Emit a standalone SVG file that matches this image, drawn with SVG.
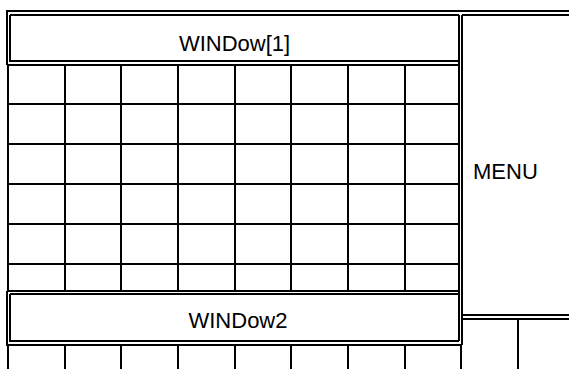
<svg xmlns="http://www.w3.org/2000/svg" width="569" height="369" viewBox="0 0 569 369">
<style>
.l{stroke:#000;stroke-width:2;fill:none}
.t{font-family:"Liberation Sans",Arial,sans-serif;font-size:22px;fill:#000}
</style>
<rect width="569" height="369" fill="#fff"/>
<g id="grid" class="l">
<path d="M8 65V291M8 345V369"/>
<path d="M65 65V291M121 65V291M178 65V291M235 65V291M291 65V291M348 65V291M405 65V291"/>
<path d="M65 345V369M121 345V369M178 345V369M235 345V369M291 345V369M348 345V369M405 345V369M461 345V369"/>
<path d="M8 104H459M8 144H459M8 184H459M8 224H459M8 264H459"/>
</g>
<g id="window1">
<path class="l" d="M7 65V11H569M7 65H459"/>
<path class="l" d="M10 15H459M10 15V61H459"/>
<text class="t" x="234.5" y="51" text-anchor="middle">WINDow[1]</text>
</g>
<g id="menu">
<path class="l" d="M462 15H569M462 315H569M462 319H569"/>
<path class="l" d="M459 15V341M462 15V345"/>
<path class="l" d="M518 319V369"/>
<text class="t" x="473" y="179">MENU</text>
</g>
<g id="window2">
<path class="l" d="M7 291H459M7 291V345H462"/>
<path class="l" d="M10 294H459M10 294V341H459"/>
<text class="t" x="238" y="328" text-anchor="middle">WINDow2</text>
</g>
</svg>
